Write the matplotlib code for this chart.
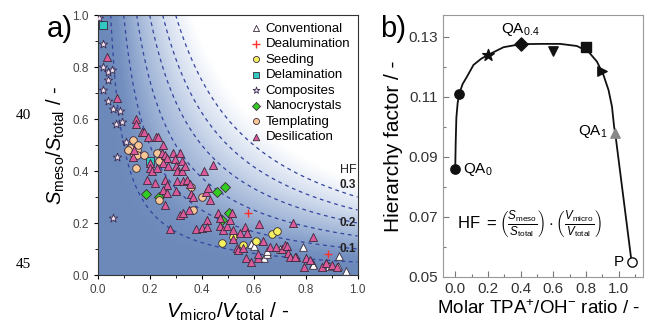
import numpy as np
import matplotlib.pyplot as plt
from matplotlib.colors import LinearSegmentedColormap

plt.rcParams['font.family'] = ['Liberation Sans', 'DejaVu Sans']
plt.rcParams['mathtext.fontset'] = 'custom'
plt.rcParams['mathtext.rm'] = 'Liberation Sans'
plt.rcParams['mathtext.it'] = 'Liberation Sans:italic'

# ---- panel a) data: (Vmicro/Vtotal, Smeso/Stotal) ----
conv_x = [0.59, 0.60, 0.64, 0.65, 0.65, 0.70, 0.79, 0.83, 0.83, 0.88, 0.89, 0.925, 0.93, 0.957]
conv_y = [0.12, 0.11, 0.064, 0.08, 0.093, 0.10, 0.107, 0.042, 0.038, 0.047, 0.036, 0.036, 0.074, 0.015]

dealu_x = [0.58, 0.885]
dealu_y = [0.237, 0.08]

seed_x = [0.477, 0.52, 0.558, 0.61, 0.67, 0.69]
seed_y = [0.124, 0.145, 0.115, 0.13, 0.157, 0.17]

delam_x = [0.02, 0.20]
delam_y = [0.96, 0.44]

comp_x = [0.005, 0.02, 0.02, 0.04, 0.055, 0.04, 0.02, 0.04, 0.06, 0.086, 0.07, 0.095, 0.11, 0.073, 0.06]
comp_y = [0.99, 0.89, 0.80, 0.78, 0.79, 0.75, 0.71, 0.67, 0.64, 0.63, 0.58, 0.59, 0.51, 0.455, 0.22]

nano_x = [0.185, 0.237, 0.46, 0.49, 0.505, 0.48]
nano_y = [0.31, 0.30, 0.32, 0.34, 0.24, 0.21]

templ_x = [0.137, 0.124, 0.135, 0.15, 0.156, 0.15, 0.178, 0.227, 0.237, 0.146, 0.237, 0.358, 0.368, 0.40, 0.115]
templ_y = [0.52, 0.49, 0.47, 0.48, 0.50, 0.46, 0.46, 0.47, 0.44, 0.41, 0.29, 0.34, 0.25, 0.30, 0.48]

desil_x = [0.035, 0.073, 0.147, 0.147, 0.17, 0.178, 0.195, 0.224, 0.233, 0.137, 0.14,
           0.20, 0.20, 0.21, 0.227, 0.253, 0.246, 0.26, 0.265, 0.253, 0.27, 0.19, 0.22,
           0.259, 0.265, 0.253, 0.265, 0.259, 0.29, 0.297, 0.30, 0.304, 0.316, 0.323,
           0.323, 0.336, 0.304, 0.33, 0.342, 0.355, 0.30, 0.358, 0.365, 0.41, 0.417,
           0.426, 0.432, 0.442, 0.317, 0.327, 0.353, 0.278, 0.38, 0.40, 0.42, 0.42,
           0.464, 0.47, 0.47, 0.483, 0.496, 0.51, 0.515, 0.52, 0.547, 0.567, 0.575,
           0.52, 0.535, 0.54, 0.56, 0.57, 0.59, 0.618, 0.618, 0.622, 0.637, 0.663,
           0.688, 0.71, 0.72, 0.73, 0.733, 0.74, 0.753, 0.763, 0.827, 0.793, 0.80,
           0.817, 0.865, 0.88, 0.90, 0.92, 0.76]
desil_y = [0.84, 0.68, 0.60, 0.58, 0.55, 0.55, 0.53, 0.53, 0.53, 0.455, 0.48,
           0.43, 0.41, 0.40, 0.41, 0.50, 0.47, 0.46, 0.45, 0.43, 0.42, 0.365, 0.355,
           0.365, 0.346, 0.327, 0.314, 0.27, 0.47, 0.445, 0.42, 0.40, 0.47, 0.44,
           0.40, 0.42, 0.36, 0.36, 0.365, 0.35, 0.325, 0.31, 0.30, 0.40, 0.32,
           0.333, 0.29, 0.423, 0.23, 0.237, 0.25, 0.176, 0.176, 0.18, 0.21, 0.186,
           0.237, 0.218, 0.19, 0.173, 0.19, 0.21, 0.237, 0.173, 0.16, 0.186, 0.16,
           0.14, 0.103, 0.096, 0.103, 0.064, 0.05, 0.064, 0.08, 0.196, 0.13, 0.109,
           0.109, 0.10, 0.115, 0.11, 0.083, 0.07, 0.20, 0.07, 0.147, 0.032, 0.064,
           0.058, 0.032, 0.045, 0.04, 0.03, 0.07]

hf_levels = [0.05, 0.10, 0.15, 0.20, 0.25, 0.30]
hf_labels = ['0.1', '0.2', '0.3']
hf_label_y = [0.10, 0.20, 0.345]

# ---- panel b) data ----
ratio = [0.0, 0.025, 0.2, 0.4, 0.6, 0.8, 0.9, 0.98, 1.08]
hfac = [0.0858, 0.111, 0.124, 0.1275, 0.1253, 0.1267, 0.1187, 0.0978, 0.055]
mk = ['o', 'o', '*', 'D', 'v', 's', '>', '^', 'o']
curve_x = [0.0, 0.003, 0.007, 0.015, 0.025, 0.045, 0.072, 0.112, 0.16, 0.204, 0.296, 0.40,
           0.52, 0.643, 0.745, 0.816, 0.868, 0.908, 0.939, 0.96, 0.973, 0.98, 1.08]
curve_y = [0.0858, 0.095, 0.103, 0.108, 0.111, 0.1142, 0.1167, 0.1206, 0.1227, 0.124, 0.1265,
           0.1275, 0.1276, 0.1276, 0.1269, 0.125, 0.1217, 0.1172, 0.1122, 0.1067, 0.100,
           0.0978, 0.055]

fig = plt.figure(figsize=(6.48, 3.25), dpi=100)

# ---------------- panel a ----------------
ax = fig.add_axes([0.1508, 0.1538, 0.401, 0.80])
gx = np.linspace(0, 1, 400)
GX, GY = np.meshgrid(gx, gx)
cmap = LinearSegmentedColormap.from_list(
    'hf', [(0.0, '#6c89ba'), (0.12, '#7490c0'), (0.35, '#9fb4d6'),
           (0.65, '#d3ddee'), (0.85, '#eef2f9'), (1.0, '#ffffff')])
ax.imshow(GX * GY, origin='lower', extent=[0, 1, 0, 1], cmap=cmap,
          vmin=0.03, vmax=0.36, aspect='auto', zorder=0)
ax.contour(GX, GY, GX * GY, levels=hf_levels, colors='#34449e',
           linestyles=[(0, (3, 3))], linewidths=0.9, zorder=1)
for lab, yy in zip(hf_labels, hf_label_y):
    ax.text(0.995, yy, lab, ha='right', va='center', fontsize=8.5,
            fontweight='bold', color='#222222', zorder=5)
ax.text(0.995, 0.38, 'HF', ha='right', va='bottom', fontsize=9, color='#222222', zorder=5)

ec = '#3a2a3a'
ax.scatter(conv_x, conv_y, marker='^', s=30, facecolor='white', edgecolor=ec, lw=0.6, zorder=3, label='Conventional')
ax.scatter(dealu_x, dealu_y, marker='+', s=40, color='#ff3030', lw=1.0, zorder=3, label='Dealumination')
ax.scatter(seed_x, seed_y, marker='o', s=30, facecolor='#f4f060', edgecolor=ec, lw=0.6, zorder=3, label='Seeding')
ax.scatter(delam_x, delam_y, marker='s', s=26, facecolor='#30c8c0', edgecolor=ec, lw=0.6, zorder=3, label='Delamination')
ax.scatter(comp_x, comp_y, marker='*', s=40, facecolor='#f6e6f0', edgecolor='#3a2a50', lw=0.6, zorder=3, label='Composites')
ax.scatter(nano_x, nano_y, marker='D', s=26, facecolor='#33cc22', edgecolor=ec, lw=0.6, zorder=3, label='Nanocrystals')
ax.scatter(templ_x, templ_y, marker='o', s=30, facecolor='#f7c795', edgecolor=ec, lw=0.6, zorder=3, label='Templating')
ax.scatter(desil_x, desil_y, marker='^', s=34, facecolor='#dc5a9c', edgecolor=ec, lw=0.6, zorder=3, label='Desilication')

ax.set_xlim(0, 1)
ax.set_ylim(0, 1)
ax.set_xticks([0, 0.2, 0.4, 0.6, 0.8, 1.0])
ax.set_yticks([0, 0.2, 0.4, 0.6, 0.8, 1.0])
ax.set_xticks(np.arange(0.1, 1, 0.2), minor=True)
ax.set_yticks(np.arange(0.1, 1, 0.2), minor=True)
ax.tick_params(labelsize=8.5, labelcolor='#444444', length=3, width=0.8)
ax.tick_params(which='minor', length=2)
for s in ax.spines.values():
    s.set_color('#333333')
ax.set_xlabel(r'$V_{\rm micro}/V_{\rm total}$ / -', fontsize=15, labelpad=3)
ax.set_ylabel(r'$S_{\rm meso}/S_{\rm total}$ / -', fontsize=14.5, labelpad=4)
leg = ax.legend(loc='upper right', frameon=False, fontsize=9.5, handletextpad=0.2,
                borderaxespad=0.35, labelspacing=0.25, markerscale=0.8,
                handlelength=1.0, borderpad=0.2)
fig.text(0.072, 0.955, 'a)', fontsize=21, ha='left', va='top')

# ---------------- panel b ----------------
bx = fig.add_axes([0.6836, 0.1477, 0.3087, 0.806])
bx.plot(curve_x, curve_y, color='#111111', lw=1.3, zorder=2)
for xv, yv, m in zip(ratio, hfac, mk):
    if m == '^':
        fc, ec2 = '#888888', '#888888'
    elif xv > 1.05:
        fc, ec2 = 'white', '#111111'
    else:
        fc, ec2 = '#111111', '#111111'
    size = 75 if m == '*' else 45
    bx.scatter([xv], [yv], marker=m, s=size, facecolor=fc, edgecolor=ec2, lw=1.0, zorder=3)

bx.text(ratio[0] + 0.05, hfac[0], r'QA$_0$', fontsize=11, va='center', ha='left')
bx.text(ratio[3], hfac[3] + 0.0022, r'QA$_{0.4}$', fontsize=11, va='bottom', ha='center')
bx.text(ratio[7] - 0.05, hfac[7] + 0.0005, r'QA$_1$', fontsize=11, va='center', ha='right')
bx.text(ratio[8] - 0.05, hfac[8], 'P', fontsize=11, va='center', ha='right')
bx.text(0.01, 0.0678,
        r'HF $=\left(\frac{S_{\rm meso}}{S_{\rm total}}\right)\cdot\left(\frac{V_{\rm micro}}{V_{\rm total}}\right)$',
        fontsize=12, va='center', ha='left')

bx.set_xlim(-0.075, 1.15)
bx.set_ylim(0.05, 0.1372)
bx.set_xticks([0, 0.2, 0.4, 0.6, 0.8, 1.0])
bx.set_yticks([0.05, 0.07, 0.09, 0.11, 0.13])
bx.set_xticks(np.arange(0.1, 1.15, 0.2), minor=True)
bx.set_yticks(np.arange(0.06, 0.135, 0.02), minor=True)
bx.tick_params(which='both', direction='in', labelsize=11, labelcolor='#333333',
               length=4, width=0.8, color='#777777')
bx.tick_params(which='minor', length=2.5)
for s in bx.spines.values():
    s.set_color('#999999')
bx.set_xlabel(r'Molar TPA$^{+}$/OH$^{-}$ ratio / -', fontsize=13.5, labelpad=3)
bx.xaxis.set_label_coords(0.48, -0.085)
bx.xaxis.label.set_va('top')
bx.set_ylabel('Hierarchy factor / -', fontsize=15, labelpad=4)
fig.text(0.586, 0.955, 'b)', fontsize=21, ha='left', va='top')

# margin line numbers
fig.text(0.025, 0.645, '40', fontsize=11, family='Liberation Serif', va='center')
fig.text(0.025, 0.185, '45', fontsize=11, family='Liberation Serif', va='center')

fig.savefig('out.png', dpi=100)
